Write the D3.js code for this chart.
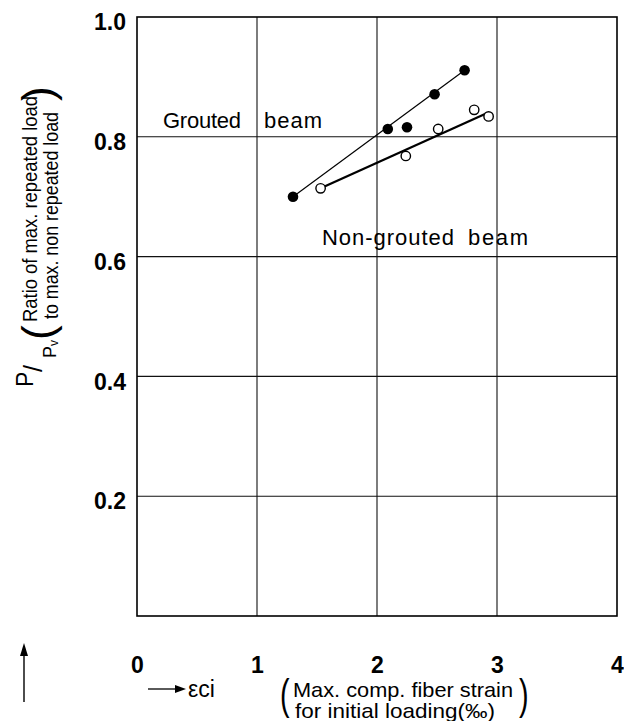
<!DOCTYPE html>
<html><head><meta charset="utf-8">
<script src="https://cdn.jsdelivr.net/npm/d3@7"></script>
<style>body{margin:0;background:#fff}svg{display:block}text{font-family:"Liberation Sans",Arial,sans-serif;fill:#000}</style>
</head><body><div id="c"></div>
<script>
const xTicks = [0, 1, 2, 3, 4];
const xTickLabels = ["0", "1", "2", "3", "4"];
const yTicks = [0.2, 0.4, 0.6, 0.8, 1.0];
const yTickLabels = ["0.2", "0.4", "0.6", "0.8", "1.0"];
const groutedX = [1.30, 2.09, 2.25, 2.48, 2.73];
const groutedY = [0.700, 0.813, 0.816, 0.871, 0.911];
const nonGroutedX = [1.53, 2.24, 2.51, 2.81, 2.93];
const nonGroutedY = [0.714, 0.768, 0.813, 0.845, 0.834];
const groutedFitX = [1.30, 2.73];
const groutedFitY = [0.700, 0.911];
const nonGroutedFitX = [1.53, 2.90];
const nonGroutedFitY = [0.714, 0.838];

const W = 624, H = 721;
const svg = d3.select("#c").append("svg").attr("width", W).attr("height", H);
const x = d3.scaleLinear().domain([0, 4]).range([137, 617]);
const y = d3.scaleLinear().domain([0, 1]).range([616, 17]);

// grid
svg.append("g").selectAll("line").data([1, 2, 3]).join("line")
  .attr("x1", d => x(d)).attr("x2", d => x(d)).attr("y1", y(0)).attr("y2", y(1))
  .attr("stroke", "#111").attr("stroke-width", 1.1);
svg.append("g").selectAll("line").data([0.2, 0.4, 0.6, 0.8]).join("line")
  .attr("y1", d => y(d)).attr("y2", d => y(d)).attr("x1", x(0)).attr("x2", x(4))
  .attr("stroke", "#111").attr("stroke-width", 1.1);
svg.append("rect").attr("x", x(0)).attr("y", y(1)).attr("width", x(4) - x(0)).attr("height", y(0) - y(1))
  .attr("fill", "none").attr("stroke", "#000").attr("stroke-width", 1.6);

// tick labels via d3 axes (no domain/tick lines)
const xAxis = svg.append("g").attr("transform", `translate(0,${y(0) + 38})`)
  .call(d3.axisBottom(x).tickValues(xTicks).tickFormat((d, i) => xTickLabels[i]).tickSize(0));
xAxis.select(".domain").remove();
xAxis.selectAll("text").attr("font-size", 23).attr("font-weight", "bold").attr("font-family", "Liberation Sans, Arial, sans-serif");
const yAxis = svg.append("g").attr("transform", `translate(${x(0) - 11},0)`)
  .call(d3.axisLeft(y).tickValues(yTicks).tickFormat((d, i) => yTickLabels[i]).tickSize(0).tickPadding(0));
yAxis.select(".domain").remove();
yAxis.selectAll("text").attr("font-size", 23).attr("font-weight", "bold").attr("dy", "0.55em").attr("font-family", "Liberation Sans, Arial, sans-serif");

// fit lines
const line = d3.line().x(d => x(d[0])).y(d => y(d[1]));
svg.append("path").datum(groutedFitX.map((v, i) => [v, groutedFitY[i]]))
  .attr("d", line).attr("stroke", "#000").attr("stroke-width", 1.2).attr("fill", "none");
svg.append("path").datum(nonGroutedFitX.map((v, i) => [v, nonGroutedFitY[i]]))
  .attr("d", line).attr("stroke", "#000").attr("stroke-width", 2.3).attr("fill", "none");

// points
svg.append("g").selectAll("circle").data(groutedX.map((v, i) => [v, groutedY[i]])).join("circle")
  .attr("cx", d => x(d[0])).attr("cy", d => y(d[1])).attr("r", 5.3).attr("fill", "#000");
svg.append("g").selectAll("circle").data(nonGroutedX.map((v, i) => [v, nonGroutedY[i]])).join("circle")
  .attr("cx", d => x(d[0])).attr("cy", d => y(d[1])).attr("r", 4.7).attr("fill", "#fff").attr("stroke", "#000").attr("stroke-width", 1.4);

// annotations
svg.append("text").attr("x", 163).attr("y", 128).attr("font-size", 22).attr("textLength", 78).text("Grouted");
svg.append("text").attr("x", 264).attr("y", 128).attr("font-size", 22).attr("textLength", 58).text("beam");
svg.append("text").attr("x", 322).attr("y", 245).attr("font-size", 22).attr("textLength", 132).text("Non-grouted");
svg.append("text").attr("x", 468).attr("y", 245).attr("font-size", 22).attr("textLength", 60).text("beam");

// x axis title
svg.append("line").attr("x1", 148).attr("x2", 177).attr("y1", 689).attr("y2", 689).attr("stroke", "#000").attr("stroke-width", 1.3);
svg.append("path").attr("d", "M186,689 L175,685 L175,693 Z").attr("fill", "#000");
svg.append("text").attr("x", 188).attr("y", 697).attr("font-size", 23).text("εci");
svg.append("text").attr("transform", "translate(280,709) scale(0.9,1.3)").attr("font-size", 32).text("(");
svg.append("text").attr("x", 293).attr("y", 697).attr("font-size", 21).attr("textLength", 220).attr("lengthAdjust", "spacingAndGlyphs").text("Max. comp. fiber strain");
svg.append("text").attr("x", 295).attr("y", 718).attr("font-size", 21).attr("textLength", 200).attr("lengthAdjust", "spacingAndGlyphs").text("for initial loading(‰)");
svg.append("text").attr("transform", "translate(519,709) scale(0.9,1.3)").attr("font-size", 32).text(")");

// y axis title
const rot = (tx, ty) => `translate(${tx},${ty}) rotate(-90)`;
const yl = svg.append("g");
yl.append("text").attr("transform", rot(33, 387)).attr("font-size", 23).text("P");
yl.append("text").attr("transform", rot(42, 372)).attr("font-size", 25).text("/");
yl.append("text").attr("transform", rot(56, 358)).attr("font-size", 18).text("P");
yl.append("text").attr("transform", rot(58, 346)).attr("font-size", 12).text("v");
yl.append("text").attr("transform", rot(53, 340)).attr("font-size", 44).text("(");
yl.append("text").attr("transform", rot(37, 322)).attr("font-size", 21).attr("textLength", 226).attr("lengthAdjust", "spacingAndGlyphs").text("Ratio of max. repeated load");
yl.append("text").attr("transform", rot(58, 319)).attr("font-size", 21).attr("textLength", 207).attr("lengthAdjust", "spacingAndGlyphs").text("to max. non repeated load");
yl.append("text").attr("transform", rot(53, 101)).attr("font-size", 44).text(")");
svg.append("line").attr("x1", 24).attr("x2", 24).attr("y1", 702).attr("y2", 654).attr("stroke", "#000").attr("stroke-width", 1.4);
svg.append("path").attr("d", "M24,643 L20,656 L28,656 Z").attr("fill", "#000");
</script></body></html>
